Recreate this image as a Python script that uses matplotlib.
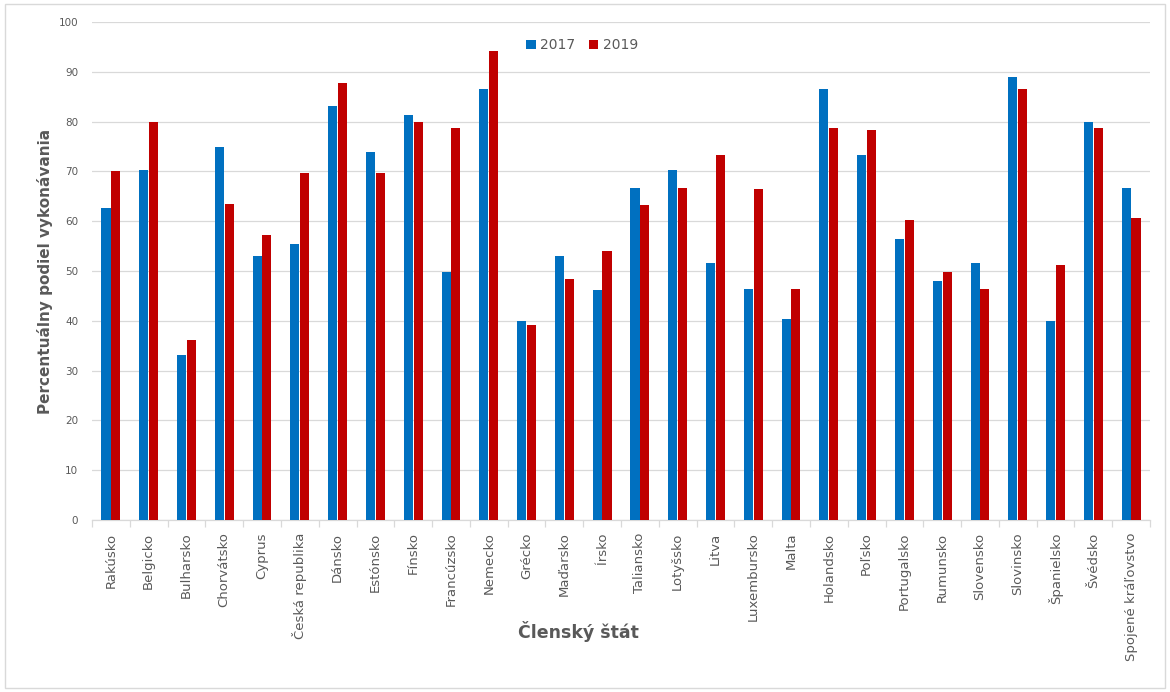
import matplotlib
matplotlib.use("Agg")
import matplotlib.pyplot as plt
import numpy as np
from matplotlib.patches import Rectangle

categories = ["Rakúsko", "Belgicko", "Bulharsko", "Chorvátsko", "Cyprus", "Česká republika",
              "Dánsko", "Estónsko", "Fínsko", "Francúzsko", "Nemecko", "Grécko", "Maďarsko",
              "Írsko", "Taliansko", "Lotyšsko", "Litva", "Luxembursko", "Malta", "Holandsko",
              "Poľsko", "Portugalsko", "Rumunsko", "Slovensko", "Slovinsko", "Španielsko",
              "Švédsko", "Spojené kráľovstvo"]
values_2017 = [62.7, 70.2, 33.2, 74.9, 53.1, 55.5, 83.2, 73.9, 81.4, 49.8, 86.5, 39.9, 53.1,
               46.1, 66.6, 70.2, 51.6, 46.4, 40.4, 86.5, 73.3, 56.4, 47.9, 51.6, 89.0, 39.9,
               79.9, 66.6]
values_2019 = [70.0, 80.0, 36.2, 63.4, 57.3, 69.7, 87.8, 69.7, 80.0, 78.8, 94.1, 39.2, 48.3,
               54.0, 63.3, 66.6, 73.3, 66.4, 46.4, 78.8, 78.4, 60.3, 49.7, 46.4, 86.5, 51.3,
               78.8, 60.7]
series_labels = ["2017", "2019"]
yticks = [0, 10, 20, 30, 40, 50, 60, 70, 80, 90, 100]

W, H = 1170, 692
fig = plt.figure(figsize=(W / 100, H / 100), dpi=100)
ax = fig.add_axes([92 / W, (H - 520) / H, (1150 - 92) / W, (520 - 22) / H])

x = np.arange(len(categories))
bw = 0.24
ax.bar(x - 0.13, values_2017, width=bw, color="#0070C0", label=series_labels[0], zorder=3)
ax.bar(x + 0.13, values_2019, width=bw, color="#C00000", label=series_labels[1], zorder=3)

ax.set_xlim(-0.5, len(categories) - 0.5)
ax.set_ylim(0, 100)
ax.set_yticks(yticks)
ax.set_yticklabels([str(v) for v in yticks], fontsize=7.5, color="#595959")
ax.yaxis.grid(True, color="#d9d9d9", linewidth=0.9, zorder=0)
ax.tick_params(axis="y", length=0, pad=10)

ax.set_xticks(x)
ax.set_xticklabels(categories, rotation=90, fontsize=9.5, color="#595959")
ax.set_xticks(np.arange(len(categories) + 1) - 0.5, minor=True)
ax.tick_params(axis="x", which="major", length=0, pad=9)
ax.tick_params(axis="x", which="minor", length=5, color="#d9d9d9", width=0.9)

for s in ["top", "right", "left"]:
    ax.spines[s].set_visible(False)
ax.spines["bottom"].set_color("#d9d9d9")
ax.spines["bottom"].set_linewidth(0.9)

fig.text(578 / W, 1 - 632 / H, "Členský štát", fontsize=12.5, fontweight="bold",
         color="#595959", ha="center", va="center")
fig.text(45 / W, 1 - 271 / H, "Percentuálny podiel vykonávania", fontsize=11,
         fontweight="bold", color="#595959", ha="center", va="center", rotation=90)

leg = ax.legend(loc="upper center", bbox_to_anchor=(0.463, 0.992), ncol=2, frameon=False,
                fontsize=10, handlelength=0.7, handleheight=0.7, handletextpad=0.3,
                columnspacing=1.0)
for t in leg.get_texts():
    t.set_color("#595959")

fig.patches.append(Rectangle((5 / W, 4 / H), (1165 - 5) / W, (688 - 4) / H,
                             transform=fig.transFigure, fill=False,
                             edgecolor="#d9d9d9", linewidth=1))

fig.savefig("out.png", dpi=100)
